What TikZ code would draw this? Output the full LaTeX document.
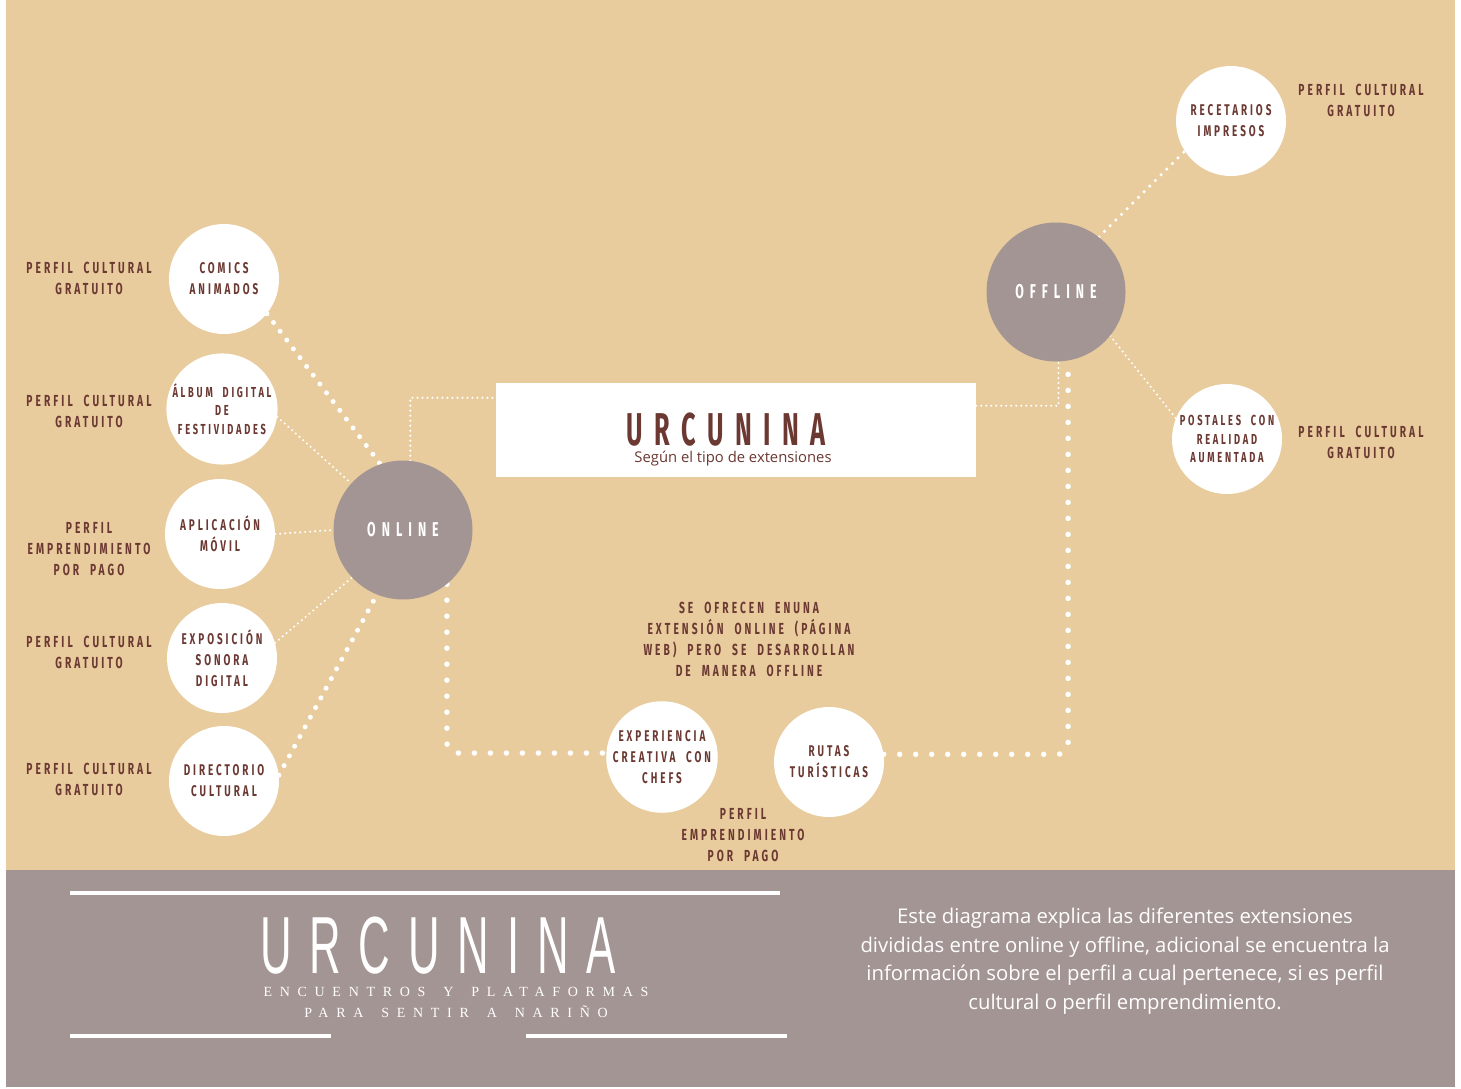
\documentclass[tikz,border=0pt]{standalone}
\usepackage{fontspec}
\setmainfont{Open Sans}
\newfontfamily\cond{Fira Sans}[FakeStretch=0.64,LetterSpace=19,WordSpace=2.0]
\newfontfamily\condhub{Fira Sans}[FakeStretch=0.62,LetterSpace=30]
\newfontfamily\condtitle{Fira Sans}[FakeStretch=0.55,LetterSpace=25]
\newfontfamily\thinf{Liberation Sans}[FakeStretch=0.54,LetterSpace=22]
\newfontfamily\serifsp{Liberation Serif}[LetterSpace=55,WordSpace=1.6]
\definecolor{tanbg}{RGB}{233,204,157}
\definecolor{mauve}{RGB}{163,149,147}
\definecolor{brn}{RGB}{107,56,50}
\pgfdeclarelayer{back}
\pgfdeclarelayer{lines}
\pgfsetlayers{back,lines,main}
\begin{document}
\begin{tikzpicture}[x=1pt,y=-1pt,
  leaf/.style={circle,fill=white,minimum size=110pt,inner sep=0pt,align=center,text=brn,
    font=\cond\bfseries\fontsize{15.5}{21}\selectfont},
  leafsmall/.style={leaf,font=\cond\bfseries\fontsize{14.5}{18.5}\selectfont},
  hub/.style={circle,fill=mauve,minimum size=139pt,inner sep=0pt,text=white,
    font=\condhub\bfseries\fontsize{20}{22}\selectfont},
  lbl/.style={align=center,text=brn,inner sep=0pt,font=\cond\bfseries\fontsize{16}{21}\selectfont},
  bigdot/.style={white,line width=5.5pt,line cap=round,dash pattern=on 0pt off 16pt},
  raydot/.style={white,line width=5pt,line cap=round,dash pattern=on 0pt off 11pt},
  meddot/.style={white,line width=3.5pt,line cap=round,dash pattern=on 0pt off 8pt},
  smalldot/.style={white,line width=2.3pt,line cap=round,dash pattern=on 0pt off 5pt},
]
\useasboundingbox (0,0) rectangle (1461,1089);
\begin{pgfonlayer}{back}
\fill[white] (0,0) rectangle (1461,1089);
\fill[tanbg] (6,0) rectangle (1455,870);
\fill[mauve] (6,870) rectangle (1455,1087);
\end{pgfonlayer}

% hubs
\node[hub] (online) at (403,530) {ONLINE};
\node[hub] (offline) at (1056,292) {OFFLINE};

% central title box
\node[rectangle,fill=white,minimum width=480pt,minimum height=94pt,inner sep=0pt] (title) at (736,430) {};
\node[anchor=base,text=brn,inner sep=0pt,font=\condtitle\bfseries\fontsize{46}{46}\selectfont] (titletext) at (726,445) {URCUNINA};
\node[anchor=base,text=brn,inner sep=0pt,font=\fontsize{14.8}{16}\selectfont] (subtitle) at (733,462) {Según el tipo de extensiones};

% left leaves
\node[leaf] (comics) at (224,279) {COMICS\\ANIMADOS};
\node[leafsmall] (album) at (222,409) {ÁLBUM DIGITAL\\DE\\FESTIVIDADES};
\node[leaf] (app) at (220,534) {APLICACIÓN\\MÓVIL};
\node[leaf] (expo) at (222,658) {EXPOSICIÓN\\SONORA\\DIGITAL};
\node[leaf] (dir) at (224,781) {DIRECTORIO\\CULTURAL};

% right leaves
\node[leaf] (rec) at (1231,121) {RECETARIOS\\IMPRESOS};
\node[leafsmall] (post) at (1227,439) {POSTALES CON\\REALIDAD\\AUMENTADA};

% bottom leaves
\node[leaf] (exp) at (662,757) {EXPERIENCIA\\CREATIVA CON\\CHEFS};
\node[leaf] (rutas) at (829,762) {RUTAS\\TURÍSTICAS};

% profile labels
\node[lbl] (l1) at (89,278) {PERFIL CULTURAL\\GRATUITO};
\node[lbl] (l2) at (89,411) {PERFIL CULTURAL\\GRATUITO};
\node[lbl] (l3) at (89,549) {PERFIL\\EMPRENDIMIENTO\\POR PAGO};
\node[lbl] (l4) at (89,652) {PERFIL CULTURAL\\GRATUITO};
\node[lbl] (l5) at (89,779) {PERFIL CULTURAL\\GRATUITO};
\node[lbl] (r1) at (1361,100) {PERFIL CULTURAL\\GRATUITO};
\node[lbl] (r2) at (1361,442) {PERFIL CULTURAL\\GRATUITO};
\node[lbl] (note) at (749,639) {SE OFRECEN ENUNA\\EXTENSIÓN ONLINE (PÁGINA\\WEB) PERO SE DESARROLLAN\\DE MANERA OFFLINE};
\node[lbl] (b1) at (743,835) {PERFIL\\EMPRENDIMIENTO\\POR PAGO};

% connectors
\begin{pgfonlayer}{lines}
\draw[raydot] (comics.-39) -- (online.109);
\draw[smalldot] (album.-8) -- (online.138);
\draw[smalldot] (app.east) -- (online.west);
\draw[smalldot] (expo.16) -- (online.223);
\draw[raydot] (dir.6) -- (online.248);
\draw[smalldot] (online.84) |- ([yshift=-15pt]title.north west);
\draw[smalldot] ([yshift=-23pt]title.north east) -| (offline.-88);
\draw[bigdot,rounded corners=10pt] (online.-51) |- ([yshift=4pt]exp.west);
\draw[bigdot,rounded corners=10pt] (rutas.8) -| (offline.-80);
\draw[meddot] (offline.52) -- (rec.213);
\draw[smalldot] (offline.-39) -- (post.158);
\end{pgfonlayer}

% footer
\draw[white,line width=4pt] (70,893) coordinate (fl1) -- (780,893) coordinate (fl2);
\draw[white,line width=4pt] (70,1036) coordinate (fl3) -- (331,1036) coordinate (fl4);
\draw[white,line width=4pt] (526,1036) coordinate (fl5) -- (787,1036) coordinate (fl6);
\node[anchor=base,text=white,inner sep=0pt,font=\thinf\fontsize{81}{81}\selectfont] (bigtitle) at (438,973) {URCUNINA};
\node[text=white,inner sep=0pt,font=\serifsp\fontsize{14}{21}\selectfont,align=center] (tagline) at (456,1002) {ENCUENTROS Y PLATAFORMAS\\PARA SENTIR A NARIÑO};
\node[text=white,inner sep=0pt,align=center,font=\fontsize{20.3}{28.5}\selectfont] (desc) at (1125,961) {Este diagrama explica las diferentes extensiones\\divididas entre online y offline, adicional se encuentra la\\información sobre el perfil a cual pertenece, si es perfil\\cultural o perfil emprendimiento.};
\end{tikzpicture}
\end{document}
